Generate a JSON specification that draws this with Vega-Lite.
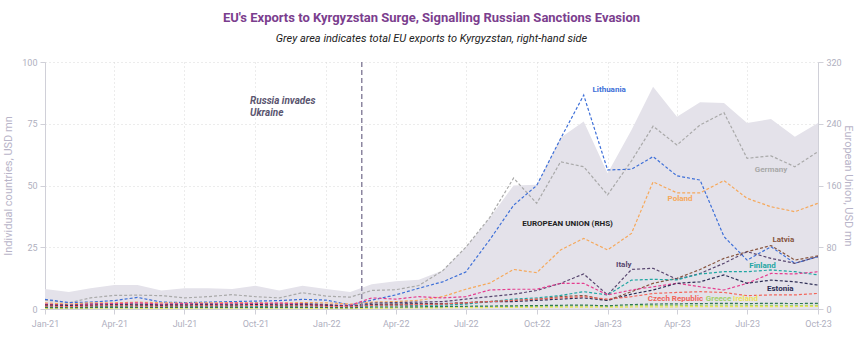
{
 "$schema": "https://vega.github.io/schema/vega-lite/v6.json",
 "width": 773,
 "height": 247,
 "autosize": {"type": "none"},
 "padding": {"left": 45, "top": 62, "right": 42, "bottom": 43},
 "background": "white",
 "title": {
  "text": "EU's Exports to Kyrgyzstan Surge, Signalling Russian Sanctions Evasion",
  "subtitle": "Grey area indicates total EU exports to Kyrgyzstan, right-hand side",
  "anchor": "middle",
  "color": "#7b3e8e",
  "font": "Roboto",
  "fontSize": 13,
  "fontWeight": "bold",
  "subtitleFont": "Roboto",
  "subtitleFontStyle": "italic",
  "subtitleFontSize": 11,
  "subtitleColor": "#222222",
  "subtitlePadding": 8,
  "offset": 14
 },
 "config": {
  "view": {"stroke": null},
  "font": "Roboto",
  "axis": {
   "labelColor": "#b0b0c0",
   "labelFontSize": 9,
   "tickColor": "#d0d0d8",
   "tickSize": 5,
   "domainColor": "#d0d0d8",
   "gridColor": "#d9d9d9",
   "gridDash": [1, 3],
   "titleColor": "#b8b4c8",
   "titleFontSize": 11,
   "titleFontWeight": "normal"
  }
 },
 "datasets": {
  "monthly": [
   {"date": "2021-01-01", "EU": 26, "Germany": 3.6, "Lithuania": 3.9, "Poland": 2.5, "Latvia": 1.5, "Italy": 1.8, "Finland": 1.0, "Other1": 2, "Estonia": 1.6, "Czech Republic": 1.2, "Greece": 0.4, "Ireland": 0.2, "Other2": 0.6},
   {"date": "2021-02-01", "EU": 22, "Germany": 2.5, "Lithuania": 2.6, "Poland": 2, "Latvia": 1.2, "Italy": 1.6, "Finland": 0.9, "Other1": 1.5, "Estonia": 1.4, "Czech Republic": 1.0, "Greece": 0.3, "Ireland": 0.2, "Other2": 0.5},
   {"date": "2021-03-01", "EU": 27, "Germany": 4.5, "Lithuania": 2.8, "Poland": 2.5, "Latvia": 1.4, "Italy": 2.0, "Finland": 1.0, "Other1": 2, "Estonia": 1.5, "Czech Republic": 1.2, "Greece": 0.4, "Ireland": 0.3, "Other2": 0.6},
   {"date": "2021-04-01", "EU": 31, "Germany": 5.5, "Lithuania": 3.4, "Poland": 2.5, "Latvia": 1.6, "Italy": 2.2, "Finland": 1.1, "Other1": 2.2, "Estonia": 1.7, "Czech Republic": 1.3, "Greece": 0.5, "Ireland": 0.3, "Other2": 0.7},
   {"date": "2021-05-01", "EU": 31, "Germany": 5.6, "Lithuania": 4.7, "Poland": 2.8, "Latvia": 1.5, "Italy": 2.0, "Finland": 1.2, "Other1": 2.5, "Estonia": 1.6, "Czech Republic": 1.2, "Greece": 0.4, "Ireland": 0.3, "Other2": 0.6},
   {"date": "2021-06-01", "EU": 24, "Germany": 5.4, "Lithuania": 2.8, "Poland": 2.5, "Latvia": 1.3, "Italy": 1.8, "Finland": 1.0, "Other1": 2, "Estonia": 1.5, "Czech Republic": 1.1, "Greece": 0.4, "Ireland": 0.2, "Other2": 0.6},
   {"date": "2021-07-01", "EU": 27, "Germany": 4.5, "Lithuania": 2.6, "Poland": 2.4, "Latvia": 1.4, "Italy": 2.0, "Finland": 1.1, "Other1": 2.2, "Estonia": 1.6, "Czech Republic": 1.2, "Greece": 0.5, "Ireland": 0.3, "Other2": 0.7},
   {"date": "2021-08-01", "EU": 27, "Germany": 5, "Lithuania": 2.8, "Poland": 2.5, "Latvia": 1.5, "Italy": 2.1, "Finland": 1.0, "Other1": 2, "Estonia": 1.7, "Czech Republic": 1.3, "Greece": 0.4, "Ireland": 0.3, "Other2": 0.6},
   {"date": "2021-09-01", "EU": 26, "Germany": 5.8, "Lithuania": 3, "Poland": 2.6, "Latvia": 1.3, "Italy": 1.9, "Finland": 1.2, "Other1": 2.4, "Estonia": 1.5, "Czech Republic": 1.2, "Greece": 0.5, "Ireland": 0.3, "Other2": 0.7},
   {"date": "2021-10-01", "EU": 30, "Germany": 5, "Lithuania": 3.2, "Poland": 2.5, "Latvia": 1.6, "Italy": 2.3, "Finland": 1.1, "Other1": 2.2, "Estonia": 1.8, "Czech Republic": 1.4, "Greece": 0.4, "Ireland": 0.3, "Other2": 0.6},
   {"date": "2021-11-01", "EU": 24, "Germany": 4.5, "Lithuania": 3.4, "Poland": 2.4, "Latvia": 1.4, "Italy": 2.0, "Finland": 1.0, "Other1": 2.4, "Estonia": 1.6, "Czech Republic": 1.2, "Greece": 0.5, "Ireland": 0.3, "Other2": 0.7},
   {"date": "2021-12-01", "EU": 30, "Germany": 6.6, "Lithuania": 3.9, "Poland": 2.6, "Latvia": 1.5, "Italy": 2.2, "Finland": 1.2, "Other1": 2, "Estonia": 1.7, "Czech Republic": 1.3, "Greece": 0.4, "Ireland": 0.3, "Other2": 0.6},
   {"date": "2022-01-01", "EU": 26, "Germany": 5.2, "Lithuania": 3.6, "Poland": 2.5, "Latvia": 1.3, "Italy": 1.8, "Finland": 1.0, "Other1": 1.5, "Estonia": 1.5, "Czech Republic": 1.1, "Greece": 0.4, "Ireland": 0.2, "Other2": 0.6},
   {"date": "2022-02-01", "EU": 22, "Germany": 4.8, "Lithuania": 1.6, "Poland": 2, "Latvia": 1.0, "Italy": 1.2, "Finland": 0.8, "Other1": 1.5, "Estonia": 1.1, "Czech Republic": 0.9, "Greece": 0.3, "Ireland": 0.2, "Other2": 0.5},
   {"date": "2022-03-01", "EU": 32, "Germany": 7.5, "Lithuania": 3.6, "Poland": 2.8, "Latvia": 1.6, "Italy": 2.4, "Finland": 1.3, "Other1": 4.5, "Estonia": 1.8, "Czech Republic": 1.5, "Greece": 0.5, "Ireland": 0.3, "Other2": 0.8},
   {"date": "2022-04-01", "EU": 36, "Germany": 7.8, "Lithuania": 5.7, "Poland": 3, "Latvia": 1.8, "Italy": 2.6, "Finland": 1.4, "Other1": 4, "Estonia": 2, "Czech Republic": 1.6, "Greece": 0.6, "Ireland": 0.4, "Other2": 0.8},
   {"date": "2022-05-01", "EU": 38, "Germany": 9.5, "Lithuania": 8.4, "Poland": 3.5, "Latvia": 2.0, "Italy": 2.8, "Finland": 1.5, "Other1": 5, "Estonia": 2.1, "Czech Republic": 1.8, "Greece": 0.6, "Ireland": 0.4, "Other2": 0.9},
   {"date": "2022-06-01", "EU": 50, "Germany": 15.5, "Lithuania": 11, "Poland": 5, "Latvia": 2, "Italy": 3, "Finland": 1.6, "Other1": 4.5, "Estonia": 2.2, "Czech Republic": 2, "Greece": 0.7, "Ireland": 0.5, "Other2": 1},
   {"date": "2022-07-01", "EU": 80, "Germany": 25, "Lithuania": 15, "Poland": 8, "Latvia": 2.5, "Italy": 4, "Finland": 2, "Other1": 5, "Estonia": 2.5, "Czech Republic": 2.5, "Greece": 0.8, "Ireland": 0.5, "Other2": 1.1},
   {"date": "2022-08-01", "EU": 118, "Germany": 37, "Lithuania": 28, "Poland": 10.5, "Latvia": 3, "Italy": 5, "Finland": 3, "Other1": 7.7, "Estonia": 3, "Czech Republic": 3, "Greece": 0.9, "Ireland": 0.6, "Other2": 1.2},
   {"date": "2022-09-01", "EU": 160, "Germany": 53, "Lithuania": 42, "Poland": 16, "Latvia": 3.5, "Italy": 6, "Finland": 4, "Other1": 8, "Estonia": 3, "Czech Republic": 3.5, "Greece": 1, "Ireland": 0.6, "Other2": 1.3},
   {"date": "2022-10-01", "EU": 161, "Germany": 42.8, "Lithuania": 50, "Poland": 14.7, "Latvia": 4, "Italy": 7.5, "Finland": 4.5, "Other1": 8, "Estonia": 3.5, "Czech Republic": 4, "Greece": 1, "Ireland": 0.7, "Other2": 1.4},
   {"date": "2022-11-01", "EU": 222, "Germany": 59.6, "Lithuania": 69, "Poland": 23.9, "Latvia": 5, "Italy": 10.4, "Finland": 5.5, "Other1": 10.4, "Estonia": 4, "Czech Republic": 4.5, "Greece": 1.1, "Ireland": 0.7, "Other2": 1.5},
   {"date": "2022-12-01", "EU": 243, "Germany": 57.6, "Lithuania": 86.6, "Poland": 28.6, "Latvia": 5.5, "Italy": 14.2, "Finland": 7, "Other1": 10.4, "Estonia": 4.5, "Czech Republic": 5, "Greece": 1.2, "Ireland": 0.8, "Other2": 1.6},
   {"date": "2023-01-01", "EU": 176, "Germany": 46.2, "Lithuania": 56.3, "Poland": 23.9, "Latvia": 3.5, "Italy": 5.7, "Finland": 5.7, "Other1": 5.7, "Estonia": 3.5, "Czech Republic": 4, "Greece": 1, "Ireland": 0.7, "Other2": 1.3},
   {"date": "2023-02-01", "EU": 232, "Germany": 60, "Lithuania": 56.6, "Poland": 30.6, "Latvia": 7, "Italy": 16, "Finland": 11.7, "Other1": 7.7, "Estonia": 6, "Czech Republic": 5, "Greece": 1.3, "Ireland": 0.8, "Other2": 1.8},
   {"date": "2023-03-01", "EU": 288, "Germany": 74, "Lithuania": 61.7, "Poland": 51.5, "Latvia": 10.4, "Italy": 16.5, "Finland": 12, "Other1": 9, "Estonia": 7.7, "Czech Republic": 6.3, "Greece": 1.4, "Ireland": 0.9, "Other2": 2},
   {"date": "2023-04-01", "EU": 249, "Germany": 66.4, "Lithuania": 53.9, "Poland": 47, "Latvia": 12.4, "Italy": 12, "Finland": 11.8, "Other1": 10.4, "Estonia": 10.4, "Czech Republic": 6.7, "Greece": 1.5, "Ireland": 0.9, "Other2": 2.1},
   {"date": "2023-05-01", "EU": 268, "Germany": 74.5, "Lithuania": 52.2, "Poland": 47, "Latvia": 16, "Italy": 14.4, "Finland": 14.2, "Other1": 9, "Estonia": 11, "Czech Republic": 7, "Greece": 1.5, "Ireland": 1, "Other2": 2.2},
   {"date": "2023-06-01", "EU": 267, "Germany": 79.5, "Lithuania": 29.3, "Poland": 52, "Latvia": 20.5, "Italy": 18.5, "Finland": 15.1, "Other1": 7.7, "Estonia": 13.8, "Czech Republic": 6.7, "Greece": 1.6, "Ireland": 1, "Other2": 2.3},
   {"date": "2023-07-01", "EU": 241, "Germany": 61, "Lithuania": 19.8, "Poland": 44.8, "Latvia": 23.2, "Italy": 23.2, "Finland": 15.1, "Other1": 10.4, "Estonia": 10.4, "Czech Republic": 5.4, "Greece": 1.5, "Ireland": 1, "Other2": 2.2},
   {"date": "2023-08-01", "EU": 246, "Germany": 62, "Lithuania": 25.2, "Poland": 41.4, "Latvia": 25.7, "Italy": 20.5, "Finland": 15.8, "Other1": 14.4, "Estonia": 11.7, "Czech Republic": 5.7, "Greece": 1.5, "Ireland": 1, "Other2": 2.3},
   {"date": "2023-09-01", "EU": 223, "Germany": 57.6, "Lithuania": 18.5, "Poland": 39.4, "Latvia": 19.8, "Italy": 18.5, "Finland": 15.1, "Other1": 14.2, "Estonia": 11, "Czech Republic": 5.7, "Greece": 1.4, "Ireland": 1, "Other2": 2.2},
   {"date": "2023-10-01", "EU": 241, "Germany": 63.7, "Lithuania": 21.2, "Poland": 42.8, "Latvia": 21.5, "Italy": 21.2, "Finland": 13.8, "Other1": 15.1, "Estonia": 9.7, "Czech Republic": 6.3, "Greece": 1.5, "Ireland": 1.1, "Other2": 2.3}
  ],
  "labels": [
   {"country": "Lithuania", "label": "Lithuania", "date": "2023-01-03", "value": 88.5},
   {"country": "Germany", "label": "Germany", "date": "2023-08-01", "value": 56.3},
   {"country": "Poland", "label": "Poland", "date": "2023-04-05", "value": 44.5},
   {"country": "EU", "label": "EUROPEAN UNION (RHS)", "date": "2022-11-10", "value": 34.4},
   {"country": "Latvia", "label": "Latvia", "date": "2023-08-17", "value": 27.9},
   {"country": "Italy", "label": "Italy", "date": "2023-01-22", "value": 17.8},
   {"country": "Finland", "label": "Finland", "date": "2023-07-21", "value": 17.4},
   {"country": "Estonia", "label": "Estonia", "date": "2023-08-13", "value": 8.1},
   {"country": "Czech Republic", "label": "Czech Republic", "date": "2023-03-30", "value": 4},
   {"country": "Greece", "label": "Greece", "date": "2023-05-25", "value": 4},
   {"country": "Ireland", "label": "Ireland", "date": "2023-06-29", "value": 4}
  ],
  "notes": [
   {"label": "Russia invades", "date": "2021-09-24", "value": 84.2},
   {"label": "Ukraine", "date": "2021-09-24", "value": 79.3}
  ],
  "events": [
   {"event": "Russia invades Ukraine", "date": "2022-02-16"}
  ]
 },
 "encoding": {
  "x": {
   "field": "date",
   "type": "temporal",
   "scale": {"type": "utc", "nice": false, "domain": [{"year": 2021, "month": 1, "date": 1, "utc": true}, {"year": 2023, "month": 10, "date": 1, "utc": true}]},
   "axis": {"format": "%b-%y", "tickCount": {"interval": "month", "step": 3}, "grid": true, "title": null, "labelPadding": 5, "tickSize": 5, "labelFlush": false}
  }
 },
 "resolve": {"scale": {"y": "independent"}},
 "layer": [
  {
   "data": {"name": "monthly"},
   "mark": {"type": "area", "color": "#e4e2ea", "interpolate": "linear"},
   "encoding": {
    "y": {
     "field": "EU",
     "type": "quantitative",
     "scale": {"domain": [0, 320], "nice": false},
     "axis": {"orient": "right", "values": [0, 80, 160, 240, 320], "grid": false, "title": "European Union, USD mn", "labelPadding": 3, "titlePadding": 1}
    }
   }
  },
  {
   "layer": [
    {
     "data": {"name": "monthly"},
     "transform": [{"fold": ["Germany", "Lithuania", "Poland", "Latvia", "Italy", "Finland", "Other1", "Estonia", "Czech Republic", "Greece", "Ireland", "Other2"], "as": ["country", "value"]}],
     "mark": {"type": "line", "strokeDash": [3, 2], "strokeWidth": 1.2, "interpolate": "linear"},
     "encoding": {
      "y": {
       "field": "value",
       "type": "quantitative",
       "scale": {"domain": [0, 100], "nice": false},
       "axis": {"orient": "left", "values": [0, 25, 50, 75, 100], "grid": true, "title": "Individual countries, USD mn", "labelPadding": 3, "titlePadding": 8}
      },
      "color": {
       "field": "country",
       "type": "nominal",
       "legend": null,
       "scale": {
        "domain": ["Germany", "Lithuania", "Poland", "Latvia", "Italy", "Finland", "Other1", "Estonia", "Czech Republic", "Greece", "Ireland", "Other2", "EU"],
        "range": ["#a9a9a9", "#3d6fd8", "#f6a85a", "#87553f", "#58466f", "#1fa6a2", "#e53d8f", "#2e2e55", "#f2655a", "#a3d16b", "#ece35a", "#2f7a52", "#222222"]
       }
      },
      "detail": {"field": "country"}
     }
    },
    {
     "data": {"name": "events"},
     "mark": {"type": "rule", "color": "#8c86a0", "strokeDash": [5, 3], "strokeWidth": 1.5},
     "encoding": {}
    },
    {
     "data": {"name": "labels"},
     "mark": {"type": "text", "fontWeight": "bold", "fontSize": 8, "align": "center", "baseline": "middle"},
     "encoding": {
      "y": {"field": "value", "type": "quantitative", "axis": {"orient": "left", "values": [0, 25, 50, 75, 100], "grid": true, "title": "Individual countries, USD mn", "labelPadding": 3, "titlePadding": 8}},
      "text": {"field": "label"},
      "color": {"field": "country", "type": "nominal", "legend": null}
     }
    },
    {
     "data": {"name": "notes"},
     "mark": {"type": "text", "fontWeight": "bold", "fontStyle": "italic", "fontSize": 10, "align": "left", "baseline": "middle", "color": "#5b5670"},
     "encoding": {
      "y": {"field": "value", "type": "quantitative", "axis": {"orient": "left", "values": [0, 25, 50, 75, 100], "grid": true, "title": "Individual countries, USD mn", "labelPadding": 3, "titlePadding": 8}},
      "text": {"field": "label"}
     }
    }
   ]
  }
 ]
}
